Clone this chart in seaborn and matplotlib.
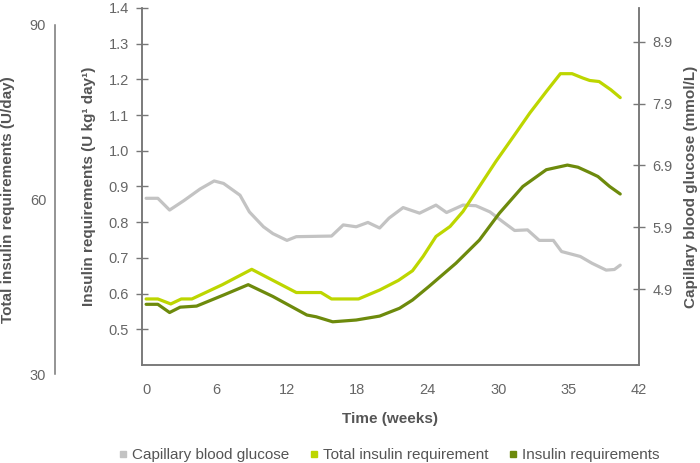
import matplotlib
matplotlib.use("Agg")
import matplotlib.pyplot as plt
import seaborn as sns
from matplotlib.lines import Line2D

sns.set_style("white")
plt.rcParams["font.family"] = ["Liberation Sans", "DejaVu Sans"]

# ------------------------------------------------------------------
# data
# ------------------------------------------------------------------
# Total insulin requirement (U kg-1 day-1 scale)
total_weeks = [0, 1.0, 2.1, 3.0, 3.9, 6.5, 9.0, 12.8, 14.9, 15.8, 18.1, 19.9,
               21.5, 22.7, 23.6, 24.7, 25.9, 27.0, 28.4, 29.8, 31.3, 32.7,
               34.1, 35.3, 36.3, 37.2, 37.8, 38.6, 39.6, 40.4]
total_req = [0.585, 0.585, 0.571, 0.585, 0.585, 0.625, 0.668, 0.603, 0.603,
             0.585, 0.585, 0.610, 0.637, 0.664, 0.704, 0.760, 0.788, 0.830,
             0.900, 0.970, 1.040, 1.106, 1.166, 1.216, 1.216, 1.204, 1.197,
             1.194, 1.171, 1.149]

# Insulin requirements (U kg-1 day-1)
ins_weeks = [0, 1.0, 2.0, 2.9, 4.3, 6.6, 8.7, 10.8, 13.7, 14.5, 15.9, 17.9,
             19.9, 21.6, 22.7, 24.1, 26.4, 28.4, 30.1, 32.1, 34.1, 35.9, 36.8,
             37.8, 38.5, 39.5, 40.4]
ins_req = [0.570, 0.570, 0.547, 0.562, 0.565, 0.596, 0.625, 0.592, 0.540,
           0.535, 0.521, 0.526, 0.537, 0.559, 0.582, 0.620, 0.685, 0.750,
           0.825, 0.900, 0.947, 0.960, 0.954, 0.939, 0.928, 0.900, 0.879]

# Capillary blood glucose (mmol/L)
glu_weeks = [0, 1.0, 2.0, 3.2, 4.6, 5.8, 6.6, 8.0, 8.8, 10.0, 10.8, 12.0,
             12.8, 15.8, 16.8, 17.9, 18.9, 19.9, 20.7, 21.9, 23.3, 24.7, 25.6,
             27.0, 28.1, 29.3, 30.4, 31.4, 32.5, 33.5, 34.7, 35.4, 37.0,
             38.0, 39.2, 39.9, 40.4]
glucose = [6.37, 6.37, 6.18, 6.33, 6.52, 6.65, 6.61, 6.42, 6.15, 5.91, 5.80,
           5.69, 5.75, 5.76, 5.94, 5.91, 5.98, 5.89, 6.05, 6.22, 6.13, 6.26,
           6.14, 6.26, 6.25, 6.15, 5.99, 5.85, 5.86, 5.69, 5.69, 5.51, 5.43,
           5.32, 5.21, 5.22, 5.29]

x_ticks = [0, 6, 12, 18, 24, 30, 36, 42]
x_labels = ["0", "6", "12", "18", "24", "30", "35", "42"]
y_ticks = [0.5, 0.6, 0.7, 0.8, 0.9, 1.0, 1.1, 1.2, 1.3, 1.4]
glu_ticks = [4.9, 5.9, 6.9, 7.9, 8.9]
tot_ticks = [30, 60, 90]

GREY = "#c3c3c3"
LIGHT = "#bdd600"
DARK = "#6d8a0c"
SPINE = "#777777"
TXT = "#555555"
TICK = "#666666"

W, H = 700, 463
fig = plt.figure(figsize=(W / 100, H / 100), dpi=100)

ax = fig.add_axes([142 / W, 1 - 365 / H, (639 - 142) / W, (365 - 8) / H])
ax2 = ax.twinx()
# greens above the grey line
ax.set_zorder(ax2.get_zorder() + 1)
ax.patch.set_visible(False)

sns.lineplot(x=glu_weeks, y=glucose, ax=ax2, color=GREY, lw=2.3,
             estimator=None, legend=False)
sns.lineplot(x=total_weeks, y=total_req, ax=ax, color=LIGHT, lw=2.3,
             estimator=None, legend=False)
sns.lineplot(x=ins_weeks, y=ins_req, ax=ax, color=DARK, lw=2.3,
             estimator=None, legend=False)
for a in (ax, ax2):
    for ln in a.get_lines():
        ln.set_solid_joinstyle("round")

ax.set_xlim(-0.35, 41.95)
ax.set_ylim(0.4, 1.4)
ax2.set_ylim(3.677, 9.444)

ax.set_xticks(x_ticks)
ax.set_xticklabels(x_labels)
ax.set_xticks(range(1, 42), minor=True)
ax.xaxis.remove_overlapping_locs = False
ax.tick_params(axis="x", which="major", length=0, pad=13,
               labelsize=10.5, labelcolor=TICK)
ax.tick_params(axis="x", which="minor", direction="inout", length=9,
               width=1, color=SPINE)

ax.set_yticks(y_ticks)
ax.set_yticklabels([f"{v:.1f}" for v in y_ticks])
ax.tick_params(axis="y", direction="inout", length=9, width=1, color=SPINE,
               pad=5, labelsize=10.5, labelcolor=TICK)

ax2.set_yticks(glu_ticks)
ax2.set_yticklabels([f"{v:.1f}" for v in glu_ticks])
ax2.tick_params(axis="y", direction="inout", length=9, width=1, color=SPINE,
                pad=5, labelsize=10.5, labelcolor=TICK)

for a in (ax, ax2):
    a.spines["top"].set_visible(False)
    for s in ("left", "right", "bottom"):
        a.spines[s].set_color(SPINE)
        a.spines[s].set_linewidth(1.1)

ax.set_xlabel("Time (weeks)", fontsize=11, fontweight="bold", color=TXT,
              labelpad=11)
ax.set_ylabel("Insulin requirements (U kg¹ day¹)", fontsize=11,
              fontweight="bold", color=TXT, labelpad=9)
ax2.set_ylabel("Capillary blood glucose (mmol/L)", fontsize=11,
               fontweight="bold", color=TXT, labelpad=8)

# outer left axis: total insulin requirements (U/day)
ax3 = fig.add_axes([54.5 / W, 1 - 374 / H, 0.0001, (374 - 25) / H])
ax3.patch.set_visible(False)
for s in ("top", "right", "bottom"):
    ax3.spines[s].set_visible(False)
ax3.spines["left"].set_color(SPINE)
ax3.spines["left"].set_linewidth(1.1)
ax3.set_xticks([])
ax3.set_ylim(30, 90)
ax3.set_yticks(tot_ticks)
ax3.tick_params(axis="y", direction="in", length=5, width=1, color=SPINE,
                pad=6, labelsize=10.5, labelcolor=TICK)
ax3.set_ylabel("Total insulin requirements (U/day)", fontsize=11,
               fontweight="bold", color=TXT, labelpad=11)

handles = [
    Line2D([], [], ls="none", marker="s", ms=5, color=GREY),
    Line2D([], [], ls="none", marker="s", ms=5, color=LIGHT),
    Line2D([], [], ls="none", marker="s", ms=5, color=DARK),
]
labels = ["Capillary blood glucose", "Total insulin requirement",
          "Insulin requirements"]
leg = fig.legend(handles, labels, loc="center", ncol=3,
                 bbox_to_anchor=(389 / W, 1 - 455 / H), frameon=False,
                 fontsize=11, handlelength=0.6, handletextpad=0.3,
                 columnspacing=1.3, borderaxespad=0)
for t in leg.get_texts():
    t.set_color(TXT)

fig.savefig("out.png", dpi=100)
plt.close(fig)
